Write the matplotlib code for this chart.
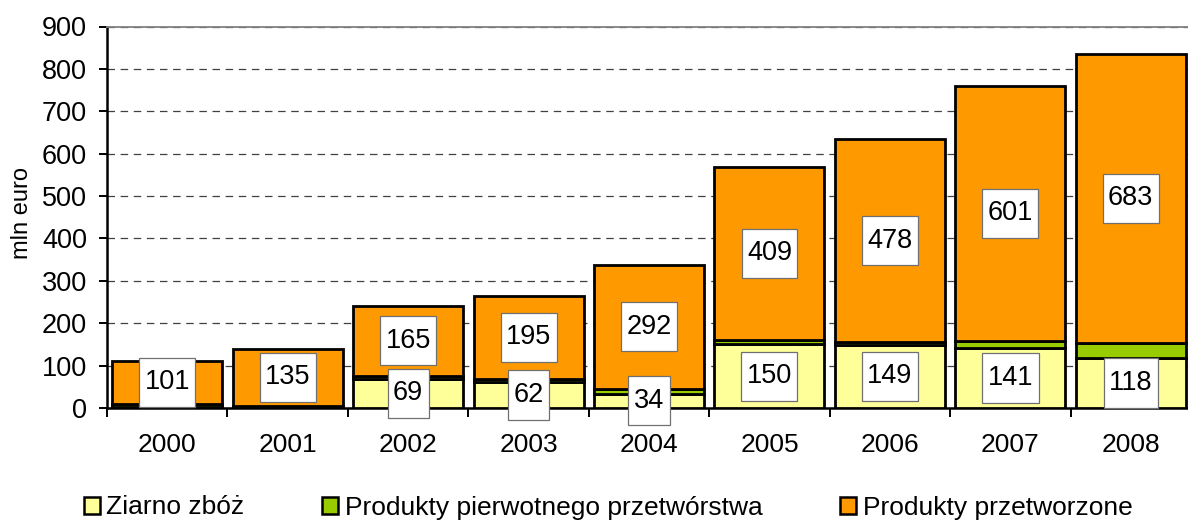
import numpy as np
import matplotlib
matplotlib.use("Agg")
import matplotlib.pyplot as plt
from matplotlib.patches import Patch
from matplotlib.path import Path

years = ["2000", "2001", "2002", "2003", "2004", "2005", "2006", "2007", "2008"]
ziarno = [2, 1, 69, 62, 34, 150, 149, 141, 118]
pierwotne = [8, 4, 7, 7, 12, 10, 7, 18, 35]
przetworzone = [101, 135, 165, 195, 292, 409, 478, 601, 683]
series_names = ["Ziarno zbóż", "Produkty pierwotnego przetwórstwa", "Produkty przetworzone"]
y_ticks = [0, 100, 200, 300, 400, 500, 600, 700, 800, 900]

colors = ["#FFFF99", "#99CC00", "#FF9900"]

plt.rcParams["font.family"] = ["Liberation Sans", "DejaVu Sans"]

W, H = 1188, 520
fig = plt.figure(figsize=(W / 100, H / 100), dpi=100)
left_px, right_px, top_px, bottom_px = 107, 1191, 26.5, 408
ax = fig.add_axes([left_px / W, 1 - bottom_px / H, (right_px - left_px) / W, (bottom_px - top_px) / H])

x = np.arange(len(years))
width = 0.914
series = [ziarno, pierwotne, przetworzone]
bottom = np.zeros(len(years))
for vals, c in zip(series, colors):
    ax.bar(x, vals, width, bottom=bottom, color=c, edgecolor="black", linewidth=2.0, zorder=3)
    bottom += np.array(vals)


def label_box(x0, y0, width, height, mutation_size):
    px = 0.2 * mutation_size
    py = 0.43 * mutation_size
    x0, y0 = x0 - px, y0 - py
    x1, y1 = x0 + width + 2 * px, y0 + height + 2 * py
    return Path([(x0, y0), (x1, y0), (x1, y1), (x0, y1), (x0, y0)],
                [Path.MOVETO, Path.LINETO, Path.LINETO, Path.LINETO, Path.CLOSEPOLY])


label_kw = dict(ha="center", va="center", fontsize=19.5, zorder=5,
                bbox=dict(boxstyle=label_box, facecolor="white", edgecolor="#707070", linewidth=0.9))
for i in range(len(years)):
    if ziarno[i] >= 20:
        ax.text(x[i], ziarno[i] / 2, str(ziarno[i]), **label_kw)
    b = ziarno[i] + pierwotne[i]
    ax.text(x[i], b + przetworzone[i] / 2, str(przetworzone[i]), **label_kw)

ax.set_xlim(-0.5, 8.5)
ax.set_ylim(0, 900)
ax.set_yticks(y_ticks)
ax.set_yticklabels([str(v) for v in y_ticks])
ax.set_xticks(np.arange(-0.5, 9.0, 1.0))
ax.set_xticklabels([])
ax.set_xticks(x, minor=True)
ax.set_xticklabels(years, minor=True)
ax.tick_params(axis="x", which="major", length=6.5, width=1.4, direction="out")
ax.tick_params(axis="x", which="minor", length=0, labelsize=19, pad=18)
ax.tick_params(axis="y", which="major", length=5.8, width=1.4, direction="out", labelsize=19.5, pad=8.5)

ax.yaxis.grid(True, color="#404040", linewidth=0.9, linestyle=(0, (6, 4.5)))
ax.set_axisbelow(True)
ax.spines["top"].set_color("#808080")
ax.spines["top"].set_linewidth(1.3)
ax.spines["right"].set_visible(False)
ax.spines["left"].set_linewidth(1.8)
ax.spines["bottom"].set_linewidth(1.8)

fig.text(22 / W, 1 - 213 / H, "mln euro", rotation=90, ha="center", va="center", fontsize=17)

handles = [Patch(facecolor=c, edgecolor="black", linewidth=1.8) for c in colors]
fig.legend(handles, series_names, loc="center", bbox_to_anchor=(0.512, 1 - 507.5 / H), ncol=3,
           frameon=False, fontsize=19, handlelength=0.6, handleheight=0.6, handletextpad=0.25,
           columnspacing=2.95, borderaxespad=0, borderpad=0)

fig.savefig("out.png", dpi=100)
